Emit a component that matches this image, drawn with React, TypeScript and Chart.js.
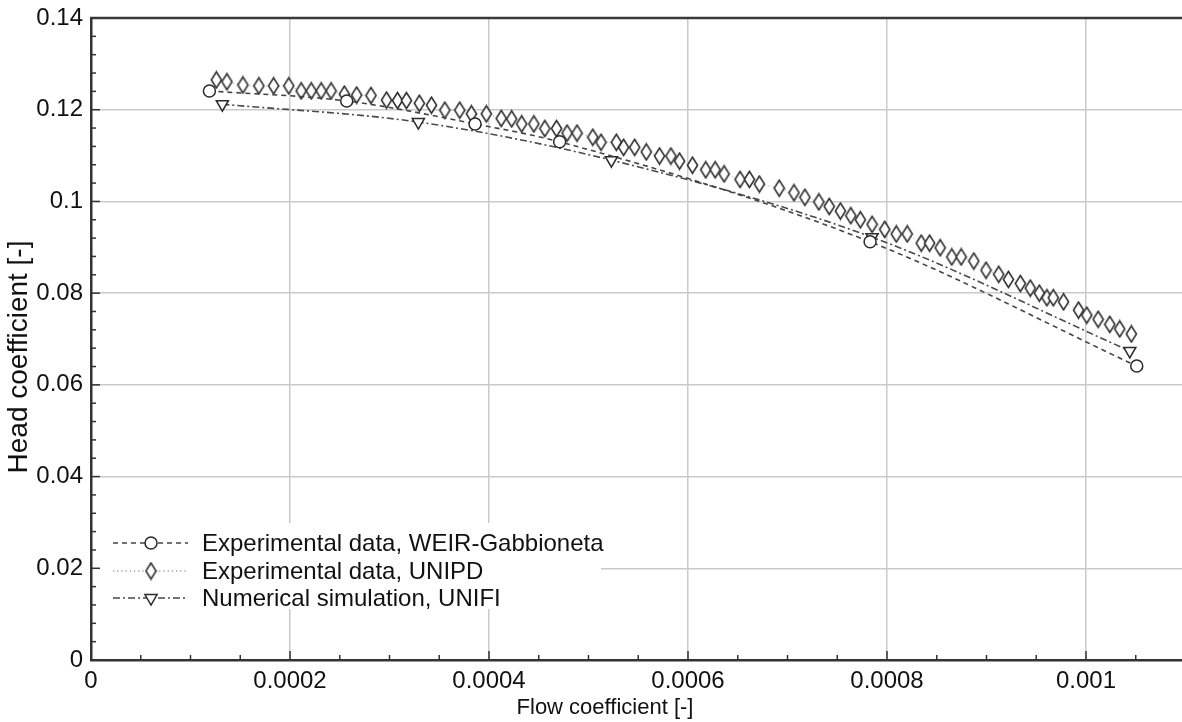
import React, { useEffect, useRef } from 'react';
import { Chart, registerables } from 'chart.js';

Chart.register(...registerables);

// ---- Data ----
const weirX = [0.000119, 0.000257, 0.000386, 0.000471, 0.000783, 0.001051];
const weirY = [0.1241, 0.1219, 0.1169, 0.113, 0.0912, 0.0641];

const unifiX = [0.000132, 0.000329, 0.000523, 0.000785, 0.001044];
const unifiY = [0.1212, 0.1173, 0.109, 0.0922, 0.0674];

const unipdX = [
  0.000126, 0.0001366, 0.0001527, 0.0001687, 0.0001835, 0.0001988, 0.0002112, 0.0002213, 0.0002313, 0.0002413,
  0.0002546, 0.000267, 0.0002814, 0.000297, 0.000308, 0.000317, 0.00033, 0.0003422, 0.0003556, 0.0003706,
  0.0003823, 0.0003973, 0.0004123, 0.0004228, 0.0004328, 0.0004451, 0.0004561, 0.0004679, 0.0004785, 0.0004885,
  0.0005043, 0.0005126, 0.000528, 0.0005353, 0.0005464, 0.0005581, 0.0005714, 0.0005828, 0.0005915, 0.0006045,
  0.0006178, 0.0006273, 0.0006363, 0.0006523, 0.0006617, 0.0006717, 0.0006917, 0.0007065, 0.0007175, 0.0007315,
  0.0007419, 0.0007532, 0.0007636, 0.0007732, 0.000785, 0.0007977, 0.0008093, 0.0008203, 0.0008344, 0.0008428,
  0.0008534, 0.0008651, 0.0008745, 0.0008872, 0.0008995, 0.0009123, 0.000922, 0.000934, 0.000944, 0.0009531,
  0.0009607, 0.0009671, 0.0009774, 0.0009925, 0.0010008, 0.0010122, 0.0010239, 0.0010339, 0.0010456,
];
const unipdY = [
  0.1265, 0.1261, 0.1254, 0.1252, 0.1252, 0.1252, 0.1241, 0.1241, 0.1241, 0.1241,
  0.1234, 0.1232, 0.1231, 0.1221, 0.122, 0.122, 0.1214, 0.121, 0.1199, 0.1199,
  0.1191, 0.1191, 0.1181, 0.118, 0.1169, 0.1169, 0.1159, 0.1159, 0.1149, 0.1149,
  0.114, 0.1129, 0.1129, 0.1118, 0.1118, 0.1108, 0.1099, 0.1099, 0.1088, 0.1079,
  0.1069, 0.1069, 0.106, 0.1048, 0.1048, 0.1038, 0.1029, 0.1019, 0.1009, 0.0999,
  0.0989, 0.0979, 0.0969, 0.096, 0.095, 0.0939, 0.0929, 0.0929, 0.0909, 0.0909,
  0.0899, 0.0879, 0.0879, 0.087, 0.085, 0.0841, 0.083, 0.0821, 0.0811, 0.08,
  0.079, 0.079, 0.0781, 0.0763, 0.0752, 0.0743, 0.0732, 0.0722, 0.0711,
];

const xTickValues = [0, 0.0002, 0.0004, 0.0006, 0.0008, 0.001];
const xTickLabels = ['0', '0.0002', '0.0004', '0.0006', '0.0008', '0.001'];
const yTickValues = [0, 0.02, 0.04, 0.06, 0.08, 0.1, 0.12, 0.14];
const yTickLabels = ['0', '0.02', '0.04', '0.06', '0.08', '0.1', '0.12', '0.14'];

const seriesNames = [
  'Experimental data, WEIR-Gabbioneta',
  'Experimental data, UNIPD',
  'Numerical simulation, UNIFI',
];

const xTitle = 'Flow coefficient [-]';
const yTitle = 'Head coefficient [-]';

const FONT = '"Liberation Sans", Arial, Helvetica, sans-serif';
const MARKER = '#2a2a2a';

function makeDiamond(): HTMLCanvasElement {
  const c = document.createElement('canvas');
  c.width = 13;
  c.height = 19;
  const g = c.getContext('2d')!;
  g.fillStyle = '#ffffff';
  g.strokeStyle = MARKER;
  g.lineWidth = 1.5;
  g.beginPath();
  g.moveTo(6.5, 1.5);
  g.lineTo(11.6, 9.5);
  g.lineTo(6.5, 17.5);
  g.lineTo(1.4, 9.5);
  g.closePath();
  g.fill();
  g.stroke();
  return c;
}

export default function App() {
  const ref = useRef<HTMLCanvasElement | null>(null);

  useEffect(() => {
    if (!ref.current) return;
    const diamond = makeDiamond();

    const frame = {
      id: 'frame',
      afterDatasetsDraw(chart: any) {
        const { ctx, chartArea } = chart;
        const { left } = chartArea;
        // legend box
        ctx.save();
        ctx.fillStyle = '#ffffff';
        ctx.fillRect(left + 2, 523, 508, 86);
        const rows = [543, 571, 598];
        const dashes = [[5, 4], [1.2, 3], [7, 3, 2, 3]];
        const colors = ['#444444', '#9a9a9a', '#4a4a4a'];
        rows.forEach((y, i) => {
          ctx.save();
          ctx.strokeStyle = colors[i];
          ctx.lineWidth = 1.5;
          ctx.setLineDash(dashes[i]);
          ctx.beginPath();
          ctx.moveTo(113, y);
          ctx.lineTo(188, y);
          ctx.stroke();
          ctx.restore();
          // marker
          ctx.save();
          ctx.fillStyle = '#fff';
          ctx.strokeStyle = MARKER;
          ctx.lineWidth = 1.5;
          const mx = 151;
          if (i === 0) {
            ctx.beginPath();
            ctx.arc(mx, y, 6, 0, Math.PI * 2);
            ctx.fill();
            ctx.stroke();
          } else if (i === 1) {
            ctx.drawImage(diamond, mx - 6.5, y - 9.5);
          } else {
            const r = 7;
            ctx.beginPath();
            ctx.moveTo(mx, y + r);
            ctx.lineTo(mx + r * 0.866, y - r * 0.5);
            ctx.lineTo(mx - r * 0.866, y - r * 0.5);
            ctx.closePath();
            ctx.fill();
            ctx.stroke();
          }
          ctx.restore();
          ctx.fillStyle = '#111';
          ctx.font = '24px ' + FONT;
          ctx.textAlign = 'left';
          ctx.textBaseline = 'middle';
          ctx.fillText(seriesNames[i], 202, y + 1);
        });
        ctx.restore();
      },
      afterDraw(chart: any) {
        const { ctx, chartArea, scales } = chart;
        const { left, right, top, bottom } = chartArea;
        ctx.save();
        ctx.strokeStyle = '#333';
        ctx.lineWidth = 1.5;
        // y ticks (major + minor)
        const ys = scales.y;
        for (let k = 0; k <= 35; k++) {
          const v = k * 0.004;
          const p = ys.getPixelForValue(v);
          const len = k % 5 === 0 ? 9 : 5;
          ctx.beginPath();
          ctx.moveTo(left, p);
          ctx.lineTo(left + len, p);
          ctx.stroke();
        }
        const xs = scales.x;
        for (let k = 0; k <= 22; k++) {
          const v = k * 0.00005;
          const p = xs.getPixelForValue(v);
          const len = k % 4 === 0 ? 9 : 5;
          ctx.beginPath();
          ctx.moveTo(p, bottom);
          ctx.lineTo(p, bottom - len);
          ctx.stroke();
        }
        // top border
        ctx.strokeStyle = '#3a3a3a';
        ctx.lineWidth = 2.5;
        ctx.beginPath();
        ctx.moveTo(left - 1, top);
        ctx.lineTo(right + 10, top);
        ctx.stroke();

        // axis titles
        ctx.fillStyle = '#111';
        ctx.textAlign = 'center';
        ctx.textBaseline = 'middle';
        ctx.font = '22px ' + FONT;
        ctx.fillText(xTitle, 605, 708);
        ctx.save();
        ctx.translate(19, 357);
        ctx.rotate(-Math.PI / 2);
        ctx.font = '28px ' + FONT;
        ctx.fillText(yTitle, 0, 0);
        ctx.restore();
        ctx.restore();
      },
    };

    const chart = new Chart(ref.current, {
      type: 'scatter',
      data: {
        datasets: [
          {
            label: seriesNames[0],
            data: weirX.map((x, i) => ({ x, y: weirY[i] })),
            showLine: true,
            borderColor: '#444444',
            borderWidth: 1.6,
            borderDash: [5, 4],
            cubicInterpolationMode: 'monotone',
            pointStyle: 'circle',
            pointRadius: 6,
            pointBorderWidth: 1.5,
            pointBorderColor: MARKER,
            pointBackgroundColor: '#ffffff',
            order: 1,
          },
          {
            label: seriesNames[1],
            data: unipdX.map((x, i) => ({ x, y: unipdY[i] })),
            showLine: true,
            borderColor: '#a8a8a8',
            borderWidth: 1,
            borderDash: [1.2, 3],
            pointStyle: diamond as any,
            pointRadius: 7,
            pointBorderColor: MARKER,
            pointBackgroundColor: '#ffffff',
            order: 3,
          },
          {
            label: seriesNames[2],
            data: unifiX.map((x, i) => ({ x, y: unifiY[i] })),
            showLine: true,
            borderColor: '#4a4a4a',
            borderWidth: 1.6,
            borderDash: [7, 3, 2, 3],
            cubicInterpolationMode: 'monotone',
            pointStyle: 'triangle',
            rotation: 180,
            pointRadius: 7,
            pointBorderWidth: 1.5,
            pointBorderColor: MARKER,
            pointBackgroundColor: '#ffffff',
            order: 2,
          } as any,
        ],
      },
      options: {
        responsive: false,
        animation: false,
        devicePixelRatio: 1,
        layout: { padding: { top: 18, right: 2, left: 0, bottom: 0 } },
        plugins: {
          legend: { display: false },
          tooltip: { enabled: false },
        },
        scales: {
          x: {
            type: 'linear',
            min: 0,
            max: 0.0011,
            afterBuildTicks: (scale: any) => {
              scale.ticks = xTickValues.map((v) => ({ value: v }));
            },
            afterFit: (scale: any) => {
              scale.height = 62;
              scale.paddingLeft = 0;
              scale.paddingRight = 0;
            },
            ticks: {
              autoSkip: false,
              maxRotation: 0,
              padding: 7,
              color: '#111',
              font: { family: FONT, size: 24 },
              callback: (v: any) => {
                const i = xTickValues.findIndex((t) => Math.abs(t - Number(v)) < 1e-9);
                return i >= 0 ? xTickLabels[i] : '';
              },
            },
            grid: { color: '#cacaca', lineWidth: 1.5, drawTicks: false },
            border: { color: '#333', width: 2.5 },
            title: { display: false },
          },
          y: {
            type: 'linear',
            min: 0,
            max: 0.14,
            afterBuildTicks: (scale: any) => {
              scale.ticks = yTickValues.map((v) => ({ value: v }));
            },
            afterFit: (scale: any) => {
              scale.width = 91;
              scale.paddingTop = 0;
              scale.paddingBottom = 0;
            },
            ticks: {
              autoSkip: false,
              padding: 8,
              color: '#111',
              font: { family: FONT, size: 24 },
              callback: (v: any) => {
                const i = yTickValues.findIndex((t) => Math.abs(t - Number(v)) < 1e-9);
                return i >= 0 ? yTickLabels[i] : '';
              },
            },
            grid: { color: '#cacaca', lineWidth: 1.5, drawTicks: false },
            border: { color: '#333', width: 2.5 },
            title: { display: false },
          },
        },
      },
      plugins: [frame],
    } as any);

    return () => chart.destroy();
  }, []);

  return (
    <div
      style={{
        position: 'fixed',
        left: 0,
        top: 0,
        width: 1182,
        height: 722,
        overflow: 'hidden',
        background: '#ffffff',
      }}
    >
      <canvas ref={ref} width={1194} height={722} style={{ display: 'block' }} />
    </div>
  );
}
